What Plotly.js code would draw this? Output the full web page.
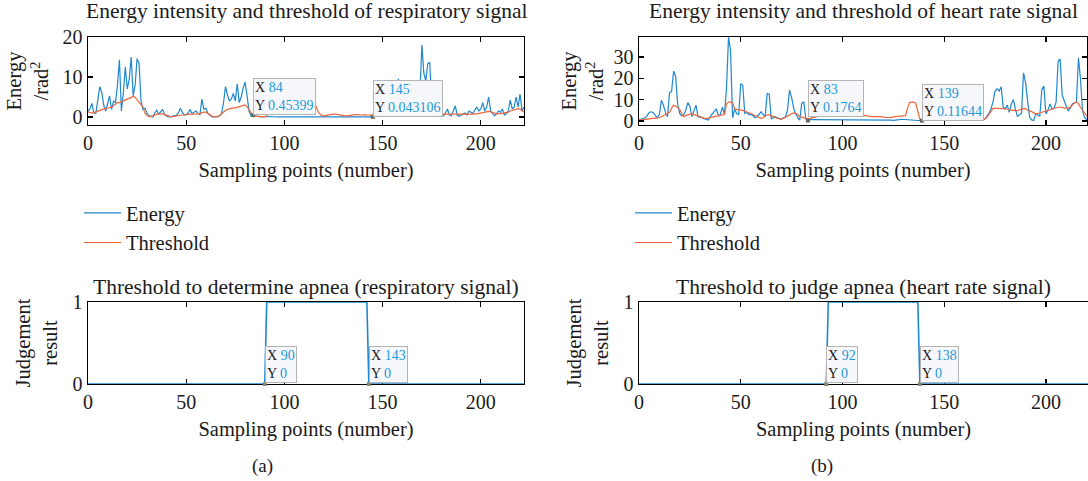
<!DOCTYPE html>
<html>
<head>
<meta charset="utf-8">
<script src="https://cdn.plot.ly/plotly-3.0.1.min.js"></script>
<style>
html,body{margin:0;padding:0;background:#fff;}
#chart{width:1088px;height:481px;}
</style>
</head>
<body>
<div id="chart"></div>
<script>
// ---------- data ----------
const respEnergy = [
1.5,2.0,3.4,1.0,0.9,5.0,7.6,6.2,3.0,1.5,
3.5,5.3,1.9,4.0,3.6,8.0,14.3,1.5,6.0,12.5,
7.0,9.5,15.0,5.3,8.0,14.6,13.3,4.0,1.9,2.2,
1.0,0.3,0.2,0.0,1.0,1.7,0.7,1.2,1.9,0.6,
0.2,0.1,0.0,0.2,0.3,0.4,1.0,2.2,1.2,0.5,
0.6,1.0,1.9,0.8,1.2,1.5,0.9,0.6,4.5,1.9,
2.2,0.9,0.5,0.1,0.0,0.0,0.1,0.3,0.9,3.5,
7.6,5.5,4.0,4.5,5.9,4.0,8.3,3.6,5.0,7.3,
8.7,5.3,1.5,0.3,0.45399,0.2,0.1,0.1,0.08,0.1,
0.07,0.05,0.06,0.05,0.04,0.05,0.06,0.05,0.04,0.05,
0.05,0.04,0.05,0.06,0.05,0.04,0.05,0.05,0.04,0.05,
0.06,0.05,0.04,0.05,0.05,0.04,0.05,0.06,0.05,0.04,
0.05,0.05,0.04,0.05,0.06,0.05,0.04,0.05,0.05,0.04,
0.05,0.06,0.05,0.04,0.05,0.05,0.04,0.05,0.06,0.05,
0.04,0.05,0.05,0.04,0.05,0.043106,0.5,1.5,3.0,2.0,
4.0,2.5,5.0,3.5,9.1,4.0,5.0,6.0,9.5,8.2,
3.0,2.0,4.0,2.5,5.5,3.0,1.5,3.0,2.0,6.0,
18.0,11.0,9.0,13.3,13.7,3.0,1.5,0.3,0.8,2.0,
0.8,0.3,1.0,2.0,0.5,0.3,1.5,2.8,0.5,0.2,
0.5,0.7,1.0,0.5,1.5,1.2,0.8,1.8,2.4,1.5,
2.0,3.6,1.5,2.5,5.0,1.5,0.8,0.3,0.8,1.5,
1.2,2.0,0.5,0.8,1.5,4.3,2.0,2.5,5.0,2.5,
5.7,1.5,2.5
];
const respThreshold = [
1.3,1.2,1.0,1.1,1.3,1.5,1.8,1.9,2.0,2.2,
2.2,2.3,2.5,2.8,3.3,3.6,3.6,3.8,4.0,4.3,
4.5,4.6,4.9,5.2,4.9,4.3,3.6,3.2,2.5,0.9,
0.4,0.1,0.1,0.3,0.6,0.7,0.7,0.8,0.8,0.6,
0.4,0.3,0.1,0.1,0.2,0.3,0.4,0.5,0.5,0.5,
0.6,0.7,0.7,0.7,0.7,0.7,0.8,0.9,1.1,1.2,
1.2,1.0,0.6,0.2,0.0,0.0,0.1,0.3,0.8,1.3,
1.6,1.9,2.1,2.2,2.3,2.3,2.4,2.5,2.7,2.9,
3.0,2.6,1.8,0.8,0.3,0.2,0.1,0.1,0.1,0.1,
0.1,0.3,1.0,2.0,3.0,3.8,4.3,4.5,4.6,4.7,
4.7,4.8,4.8,4.8,4.9,4.9,4.9,5.0,5.0,5.0,
5.0,5.0,5.0,5.1,4.5,4.0,2.8,1.5,0.8,0.4,
0.3,0.4,0.5,0.6,0.6,0.7,0.7,0.6,0.5,0.4,
0.3,0.3,0.3,0.4,0.5,0.5,0.6,0.6,0.5,0.5,
0.5,0.6,0.5,0.5,0.4,0.5,0.8,1.2,1.6,2.0,
2.3,2.6,2.9,3.2,3.5,3.7,3.8,4.0,4.0,3.8,
3.5,3.3,3.1,3.0,3.0,2.8,2.8,3.0,3.5,4.2,
4.8,5.0,5.0,4.5,3.5,2.0,0.9,0.6,0.6,0.7,
0.8,0.7,0.7,0.7,0.7,0.7,0.7,0.7,0.7,0.7,
0.7,0.7,0.7,0.7,0.7,0.7,0.6,0.7,0.8,0.9,
1.0,1.1,1.2,1.3,1.4,1.3,1.1,0.9,0.8,0.8,
0.9,1.0,1.0,1.1,1.2,1.5,1.7,1.8,1.9,2.1,
2.0,1.5,1.2
];
const heartEnergy = [
0.5,0.9,1.2,1.5,2.5,4.0,4.3,4.0,2.5,1.5,
3.0,9.7,7.4,4.0,2.0,13.3,13.6,23.3,21.0,8.0,
3.5,2.3,3.0,5.0,8.6,6.8,2.0,4.5,7.4,2.0,
1.8,1.5,1.0,0.5,0.4,2.0,3.5,4.5,5.7,2.5,
3.0,6.5,2.9,15.0,39.2,33.0,1.5,5.5,3.5,3.0,
17.4,16.7,3.5,4.0,3.0,3.0,2.5,1.5,2.0,3.0,
4.3,3.0,2.0,12.8,12.5,1.0,1.5,2.0,1.5,1.0,
0.8,1.5,2.0,5.0,14.4,11.0,6.0,3.5,1.5,0.4,
8.2,9.0,0.8,0.1764,0.6,0.6,0.6,0.6,0.6,0.6,
0.6,0.6,0.6,0.6,0.6,0.5,0.6,0.6,0.6,0.5,
0.6,0.5,0.5,0.6,0.5,0.5,0.5,0.6,0.5,0.5,
0.5,0.5,0.5,0.4,0.5,0.4,0.5,0.6,0.7,0.6,
0.5,0.4,0.4,0.4,0.4,0.3,0.3,0.4,0.6,0.8,
0.7,0.5,0.4,0.3,0.3,0.3,0.2,0.2,0.2,0.11644,
0.3,0.5,0.8,1.2,2.0,1.5,3.0,2.0,4.0,2.5,
5.0,17.1,6.0,2.5,3.5,1.5,2.5,1.2,2.0,1.0,
1.5,0.8,1.2,0.6,1.0,0.5,0.8,0.5,0.6,0.8,
0.8,2.3,3.5,5.6,9.0,14.0,15.1,14.0,16.0,6.5,
5.6,7.4,4.0,8.0,10.0,5.6,2.0,3.0,3.5,22.5,
17.9,9.4,1.7,0.5,0.2,3.3,2.8,2.3,14.8,16.3,
3.3,5.0,7.9,5.6,6.0,8.8,27.9,29.0,12.0,9.0,
7.0,4.8,6.0,7.9,8.5,8.8,29.5,19.5,4.8,1.7,
0.8,1.0,1.5
];
const heartThreshold = [
0.5,0.4,0.5,0.7,0.9,1.0,1.1,1.2,1.3,1.4,
1.5,2.0,2.5,3.0,3.5,4.0,6.0,7.4,7.0,6.0,
5.5,3.5,2.0,2.5,3.0,3.2,3.2,3.0,2.8,2.4,
2.0,1.6,1.3,1.2,1.2,1.5,1.8,2.0,2.2,2.5,
2.7,2.9,3.0,8.0,8.8,8.8,8.5,5.7,5.3,5.2,
5.2,5.0,4.6,4.2,4.0,3.5,3.0,2.5,2.0,1.5,
1.2,1.5,2.2,2.9,2.8,2.5,2.0,1.6,1.2,1.0,
0.8,1.2,1.8,2.5,2.9,3.4,3.8,3.6,3.0,2.0,
1.8,1.5,1.2,1.0,1.2,1.5,1.8,2.0,2.2,2.4,
2.5,2.6,2.7,2.8,2.8,2.9,2.9,3.0,3.0,2.9,
2.9,2.9,2.8,2.8,2.8,2.8,2.8,2.8,2.8,2.8,
2.6,2.5,2.5,2.3,2.0,2.0,2.2,2.3,2.3,2.0,
1.8,1.6,1.5,1.5,1.7,2.0,2.0,2.1,2.2,2.2,
2.3,2.5,6.0,8.6,8.8,8.8,8.4,4.0,1.0,0.5,
0.6,0.8,1.0,1.3,1.6,2.0,2.4,2.8,3.2,3.5,
3.8,4.0,4.2,4.2,4.0,3.8,3.5,3.2,2.8,2.5,
2.2,2.0,1.8,1.6,1.4,1.3,1.2,1.1,1.0,1.0,
1.0,1.7,3.0,4.5,5.9,5.9,5.9,6.0,5.9,5.8,
5.6,5.6,5.2,5.0,4.8,4.8,4.8,5.2,5.6,5.9,
5.8,5.0,4.8,4.2,3.6,3.3,3.5,3.8,4.0,4.5,
4.8,5.0,5.2,5.5,6.0,6.4,6.4,6.4,6.4,6.0,
5.9,6.0,6.5,7.5,8.5,8.8,8.0,6.4,5.0,3.5,
2.5,2.0,1.8
];
// judgement result (step: 0 outside apnea, 1 inside)
const respJudgeX = [0, 90, 91, 142, 143, 222];
const respJudgeY = [0, 0, 1, 1, 0, 0];
const heartJudgeX = [0, 92, 93, 137, 138, 222];
const heartJudgeY = [0, 0, 1, 1, 0, 0];
// data tips shown in the figure
const respTipX = [84, 145];
const respTipY = [0.45399, 0.043106];
const heartTipX = [83, 139];
const heartTipY = [0.1764, 0.11644];
const respJudgeTipX = [90, 143];
const respJudgeTipY = [0, 0];
const heartJudgeTipX = [92, 138];
const heartJudgeTipY = [0, 0];
const xTicks = [0, 50, 100, 150, 200];

const titles = {
  tl: 'Energy intensity and threshold of respiratory signal',
  tr: 'Energy intensity and threshold of heart rate signal',
  bl: 'Threshold to determine apnea (respiratory signal)',
  br: 'Threshold to judge apnea (heart rate signal)'
};

// ---------- styling ----------
const FONT = 'Liberation Serif, Times New Roman, serif';
const BLUE = '#1f88d0';
const ORANGE = '#f0643a';
const TIPBLUE = '#1a9ad6';
const TXT = '#1a1a1a';
const idx = arr => arr.map((_, i) => i);

function xAxis(domain, range, anchor) {
  return {
    domain: domain, range: range, anchor: anchor,
    showline: true, linecolor: '#000', linewidth: 1.4, mirror: 'ticks',
    ticks: 'inside', ticklen: 5, tickwidth: 1.3, tickcolor: '#000',
    tickvals: xTicks, showgrid: false, zeroline: false,
    tickfont: {family: FONT, size: 20, color: TXT},
    title: {text: 'Sampling points (number)', font: {family: FONT, size: 20.5, color: TXT}, standoff: 9},
    automargin: false
  };
}
function yAxis(domain, range, ticks, anchor, title, standoff) {
  return {
    domain: domain, range: range, anchor: anchor,
    showline: true, linecolor: '#000', linewidth: 1.4, mirror: 'ticks',
    ticks: 'inside', ticklen: 5, tickwidth: 1.3, tickcolor: '#000',
    tickvals: ticks, showgrid: false, zeroline: false,
    tickfont: {family: FONT, size: 20, color: TXT},
    title: {text: title, font: {family: FONT, size: 20.5, color: TXT}, standoff: standoff},
    automargin: false
  };
}

const lineE = {color: BLUE, width: 1.2};
const lineT = {color: ORANGE, width: 1.2};

const traces = [
  {x: idx(respEnergy), y: respEnergy, xaxis: 'x', yaxis: 'y', type: 'scatter', mode: 'lines', name: 'Energy', line: lineE, legend: 'legend'},
  {x: idx(respThreshold), y: respThreshold, xaxis: 'x', yaxis: 'y', type: 'scatter', mode: 'lines', name: 'Threshold', line: lineT, legend: 'legend'},
  {x: idx(heartEnergy), y: heartEnergy, xaxis: 'x2', yaxis: 'y2', type: 'scatter', mode: 'lines', name: 'Energy', line: lineE, legend: 'legend2'},
  {x: idx(heartThreshold), y: heartThreshold, xaxis: 'x2', yaxis: 'y2', type: 'scatter', mode: 'lines', name: 'Threshold', line: lineT, legend: 'legend2'},
  {x: respJudgeX, y: respJudgeY, xaxis: 'x3', yaxis: 'y3', type: 'scatter', mode: 'lines', showlegend: false, line: {color: BLUE, width: 1.6}},
  {x: heartJudgeX, y: heartJudgeY, xaxis: 'x4', yaxis: 'y4', type: 'scatter', mode: 'lines', showlegend: false, line: {color: BLUE, width: 1.6}},
  {x: respTipX, y: respTipY, xaxis: 'x', yaxis: 'y', type: 'scatter', mode: 'markers', showlegend: false, marker: {size: 4, color: '#6b6b5a', symbol: 'square'}},
  {x: heartTipX, y: heartTipY, xaxis: 'x2', yaxis: 'y2', type: 'scatter', mode: 'markers', showlegend: false, marker: {size: 4, color: '#6b6b5a', symbol: 'square'}},
  {x: respJudgeTipX, y: respJudgeTipY, xaxis: 'x3', yaxis: 'y3', type: 'scatter', mode: 'markers', showlegend: false, cliponaxis: false, marker: {size: 4, color: '#8a8a70', symbol: 'square'}},
  {x: heartJudgeTipX, y: heartJudgeTipY, xaxis: 'x4', yaxis: 'y4', type: 'scatter', mode: 'markers', showlegend: false, cliponaxis: false, marker: {size: 4, color: '#8a8a70', symbol: 'square'}}
];

// data-tip boxes
function tip(xv, yv, xref, yref, yshift) {
  return {
    x: xv, y: yv, xref: xref, yref: yref, xanchor: 'left', yanchor: 'bottom',
    showarrow: false, align: 'left', yshift: yshift, xshift: 0,
    bgcolor: '#f6f7fb', bordercolor: '#b4b4b4', borderwidth: 1, borderpad: 1,
    font: {family: FONT, size: 14, color: TXT},
    text: 'X <span style="color:' + TIPBLUE + '">' + xv + '</span><br>Y <span style="color:' + TIPBLUE + '">' + yv + '</span>'
  };
}
function subTitle(text, xref, yref, yshift) {
  return {text: text, xref: xref, yref: yref, x: 0.5, y: 1, xanchor: 'center', yanchor: 'bottom',
    yshift: yshift, showarrow: false, font: {family: FONT, size: 21.5, color: TXT}};
}

const annotations = [
  subTitle(titles.tl, 'x domain', 'y domain', 12),
  subTitle(titles.tr, 'x2 domain', 'y2 domain', 12),
  subTitle(titles.bl, 'x3 domain', 'y3 domain', 1),
  subTitle(titles.br, 'x4 domain', 'y4 domain', 1),
  tip(respTipX[0], respTipY[0], 'x', 'y', 0),
  tip(respTipX[1], respTipY[1], 'x', 'y', 0),
  tip(heartTipX[0], heartTipY[0], 'x2', 'y2', 4),
  tip(heartTipX[1], heartTipY[1], 'x2', 'y2', 0),
  tip(respJudgeTipX[0], respJudgeTipY[0], 'x3', 'y3', 1),
  tip(respJudgeTipX[1], respJudgeTipY[1], 'x3', 'y3', 1),
  tip(heartJudgeTipX[0], heartJudgeTipY[0], 'x4', 'y4', 1),
  tip(heartJudgeTipX[1], heartJudgeTipY[1], 'x4', 'y4', 1),
  {text: '(a)', xref: 'x3 domain', yref: 'y3 domain', x: 0.401, y: -1.0, xanchor: 'center', yanchor: 'middle', showarrow: false, font: {family: FONT, size: 19, color: TXT}},
  {text: '(b)', xref: 'x4 domain', yref: 'y4 domain', x: 0.408, y: -1.0, xanchor: 'center', yanchor: 'middle', showarrow: false, font: {family: FONT, size: 19, color: TXT}}
];

const W = 1088, H = 481;
const dL = [88 / W, 524 / W];
const dR = [639 / W, 1087 / W];
const dRb = [639 / W, 1];
const dTop = [1 - 125 / H, 1 - 37 / H];
const dBot = [1 - 384 / H, 1 - 302 / H];

const legendStyle = (x) => ({
  x: x, y: 1 - 193 / H, xanchor: 'left', yanchor: 'top', xref: 'paper', yref: 'paper',
  bgcolor: 'rgba(0,0,0,0)', borderwidth: 0, tracegroupgap: 0,
  font: {family: FONT, size: 20.5, color: TXT}, itemwidth: 37
});

const layout = {
  width: W, height: H,
  margin: {l: 0, r: 0, t: 0, b: 0},
  paper_bgcolor: '#fff', plot_bgcolor: '#fff',
  showlegend: true,
  font: {family: FONT, size: 20, color: TXT},
  xaxis: xAxis(dL, [0, 222], 'y'),
  yaxis: yAxis(dTop, [-2, 20], [0, 10, 20], 'x', 'Energy<br>/rad<sup>2</sup>', 8),
  xaxis2: xAxis(dR, [0, 220.2], 'y2'),
  yaxis2: yAxis(dTop, [-1.9, 39.3], [0, 10, 20, 30], 'x2', 'Energy<br>/rad<sup>2</sup>', 4),
  xaxis3: Object.assign(xAxis(dL, [0, 222], 'y3'), {layer: 'below traces'}),
  yaxis3: Object.assign(yAxis(dBot, [0, 1], [0, 1], 'x3', 'Judgement<br>result', 9), {layer: 'below traces'}),
  xaxis4: Object.assign(xAxis(dRb, [0, 220.6], 'y4'), {layer: 'below traces'}),
  yaxis4: Object.assign(yAxis(dBot, [0, 1], [0, 1], 'x4', 'Judgement<br>result', 9), {layer: 'below traces', mirror: false}),
  legend: legendStyle(79 / W),
  legend2: legendStyle(630 / W),
  annotations: annotations
};

Plotly.newPlot('chart', traces, layout, {displayModeBar: false, staticPlot: true});
</script>
</body>
</html>
